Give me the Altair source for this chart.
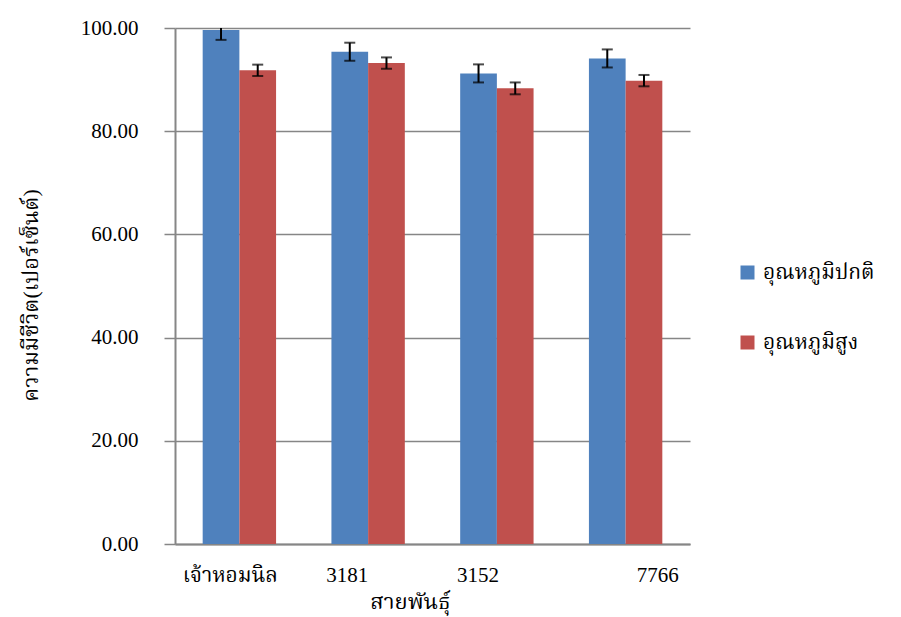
import altair as alt
import pandas as pd

categories = ["เจ้าหอมนิล", "3181", "3152", "7766"]
series_names = ["อุณหภูมิปกติ", "อุณหภูมิสูง"]
normal_vals = [99.6, 95.4, 91.2, 94.1]
normal_err = [1.9, 1.75, 1.75, 1.75]
high_vals = [91.8, 93.2, 88.3, 89.8]
high_err = [1.1, 1.1, 1.15, 1.1]
y_ticks = [0, 20, 40, 60, 80, 100]
colors = ["#4F81BD", "#C0504D"]

rows = []
for i, c in enumerate(categories):
    rows.append({"cat": c, "series": series_names[0], "v": normal_vals[i],
                 "lo": normal_vals[i] - normal_err[i], "hi": normal_vals[i] + normal_err[i]})
    rows.append({"cat": c, "series": series_names[1], "v": high_vals[i],
                 "lo": high_vals[i] - high_err[i], "hi": high_vals[i] + high_err[i]})
df = pd.DataFrame(rows)

FONT = "Liberation Serif, Noto Serif Thai, Noto Sans Thai, Tlwg Typo, serif"

label_shift = {
    "condition": [
        {"test": f"datum.value == '{categories[0]}'", "value": -9},
        {"test": f"datum.value == '{categories[1]}'", "value": -21},
        {"test": f"datum.value == '{categories[2]}'", "value": -19},
        {"test": f"datum.value == '{categories[3]}'", "value": 32},
    ],
    "value": 0,
}

x_enc = alt.X("cat:N", sort=categories,
              scale=alt.Scale(paddingInner=0.43, paddingOuter=0.215),
              axis=alt.Axis(title="สายพันธุ์", labelAngle=0, ticks=False,
                            domainColor="#868686", domainWidth=2,
                            labelFontSize=21, labelPadding=20, labelColor="black",
                            labelOffset=label_shift,
                            titleFontSize=22, titleFontWeight="normal", titleColor="black",
                            titleX=235, titleY=64, titleBaseline="alphabetic",
                            grid=False))
xoff = alt.XOffset("series:N", sort=series_names, scale=alt.Scale(paddingInner=0))

y_scale = alt.Scale(domain=[0, 100], nice=False)

bars = alt.Chart(df).mark_bar().encode(
    x=x_enc,
    xOffset=xoff,
    y=alt.Y("v:Q", scale=y_scale,
            axis=alt.Axis(title="ความมีชีวิต(เปอร์เซ็นต์)", values=y_ticks, format=".2f",
                          gridColor="#868686", gridWidth=1.5,
                          domainColor="#868686", domainWidth=2,
                          tickColor="#868686", tickSize=11, tickWidth=1.5,
                          labelFontSize=21, labelPadding=26, labelColor="black",
                          titleFontSize=22, titleFontWeight="normal", titleColor="black",
                          titleAngle=270, titleX=-133, titleY=267, titleBaseline="bottom")),
    color=alt.Color("series:N", sort=series_names,
                    scale=alt.Scale(domain=series_names, range=colors),
                    legend=alt.Legend(title=None, orient="none", legendX=562, legendY=234,
                                      symbolType="square", symbolSize=196,
                                      symbolStrokeWidth=0, labelFontSize=21,
                                      labelColor="black", labelOffset=5,
                                      rowPadding=48)),
)

rule = alt.Chart(df).mark_rule(color="black", strokeWidth=2, clip=True).encode(
    x=alt.X("cat:N", sort=categories),
    xOffset=xoff,
    y=alt.Y("lo:Q", scale=y_scale),
    y2="hi:Q",
)
cap_lo = alt.Chart(df).mark_tick(color="black", thickness=2, size=11, clip=True).encode(
    x=alt.X("cat:N", sort=categories),
    xOffset=xoff,
    y=alt.Y("lo:Q", scale=y_scale),
)
cap_hi = alt.Chart(df).mark_tick(color="black", thickness=2, size=11, clip=True).encode(
    x=alt.X("cat:N", sort=categories),
    xOffset=xoff,
    y=alt.Y("hi:Q", scale=y_scale),
)

chart = alt.layer(bars, rule, cap_lo, cap_hi).properties(
    width=515, height=516,
    autosize=alt.AutoSizeParams(type="none"),
    padding={"left": 167, "top": 20, "right": 203, "bottom": 81},
    background="white",
).configure(font=FONT).configure_view(stroke=None)

chart.save("out.html", embed_options={"renderer": "svg", "actions": False})
